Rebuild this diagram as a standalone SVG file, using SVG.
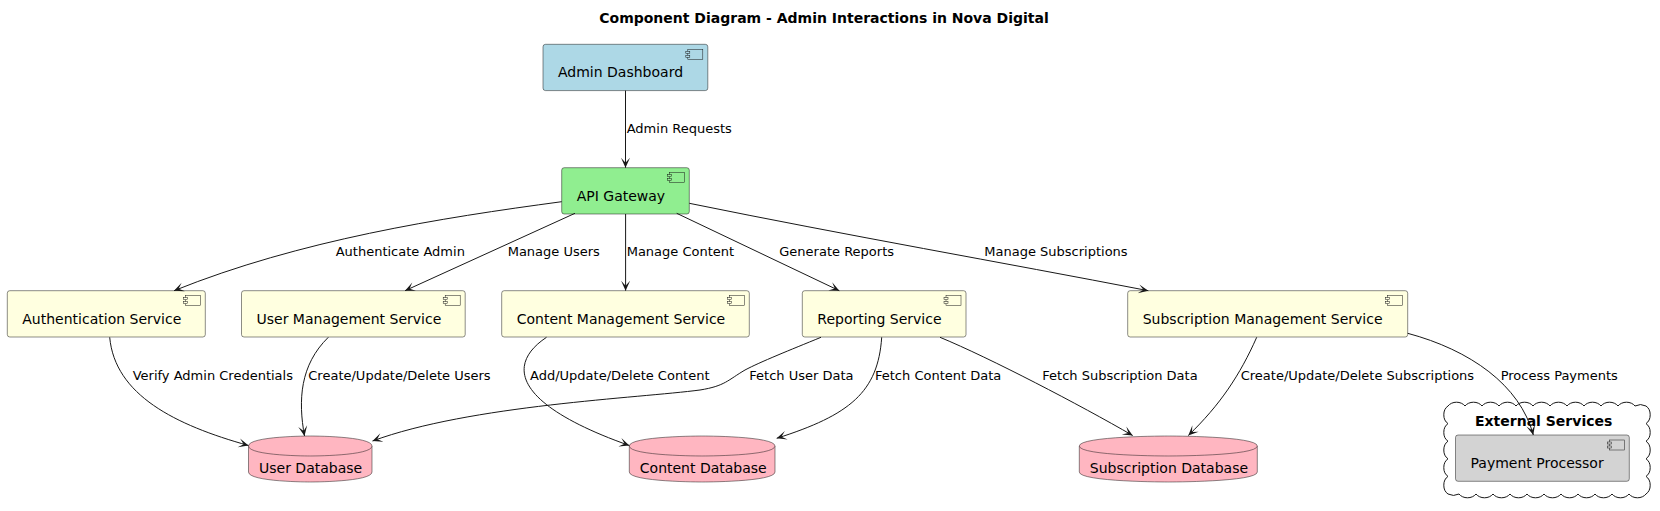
<svg xmlns="http://www.w3.org/2000/svg" width="1660" height="511" viewBox="0 0 1660 511">
<defs>
<style>
text{font-family:"DejaVu Sans","Noto Sans",sans-serif;fill:#000;}
.title{font-size:14px;font-weight:bold;}
.nt{font-size:14px;}
.lb{font-size:13px;}
.box{stroke:#181818;stroke-width:0.5;}
.comp{fill:#FFFFE0;}
.db{fill:#FFB6C1;stroke:#181818;stroke-width:0.5;}
.edge{fill:none;stroke:#181818;stroke-width:1;marker-end:url(#ah);}
</style>
<marker id="ah" markerWidth="12" markerHeight="10" refX="11" refY="5" orient="auto" markerUnits="userSpaceOnUse" viewBox="0 0 12 10">
<path d="M11,5 L1,0.5 L6,5 L1,9.5 Z" fill="#181818"/>
</marker>
</defs>
<rect width="1660" height="511" fill="#FFFFFF"/>
<text class="title" x="824" y="22.7" text-anchor="middle">Component Diagram - Admin Interactions in Nova Digital</text>

<g id="external_services">
<path d="M1448,406 a10,8 0 0,1 17,0 a10,8 0 0,1 17,0 a10,8 0 0,1 17,0 a10,8 0 0,1 17,0 a10,8 0 0,1 17,0 a10,8 0 0,1 17,0 a10,8 0 0,1 17,0 a10,8 0 0,1 17,0 a10,8 0 0,1 17,0 a10,8 0 0,1 17,0 a10,8 0 0,1 17,0 a10,8 0 0,1 11,0 a8,10 0 0,1 0,17.6 a8,10 0 0,1 0,17.6 a8,10 0 0,1 0,17.6 a8,10 0 0,1 0,17.6 a8,10 0 0,1 0,17.6 a10,8 0 0,1 -17,0 a10,8 0 0,1 -17,0 a10,8 0 0,1 -17,0 a10,8 0 0,1 -17,0 a10,8 0 0,1 -17,0 a10,8 0 0,1 -17,0 a10,8 0 0,1 -17,0 a10,8 0 0,1 -17,0 a10,8 0 0,1 -17,0 a10,8 0 0,1 -17,0 a10,8 0 0,1 -17,0 a10,8 0 0,1 -11,0 a8,10 0 0,1 0,-17.6 a8,10 0 0,1 0,-17.6 a8,10 0 0,1 0,-17.6 a8,10 0 0,1 0,-17.6 a8,10 0 0,1 0,-17.6 Z" fill="#FFFFFF" stroke="#181818" stroke-width="1"/>
<text class="title" x="1475" y="425.5">External Services</text>
</g>

<g id="admin_dashboard">
<rect class="box" x="543" y="44.3" width="164.8" height="46.3" rx="2.5" fill="#ADD8E6"/>
<rect class="box" x="687.8" y="49.3" width="15" height="10" fill="#ADD8E6"/>
<rect class="box" x="685.8" y="51.3" width="4" height="2" fill="#ADD8E6"/>
<rect class="box" x="685.8" y="55.3" width="4" height="2" fill="#ADD8E6"/>
<text class="nt" x="558" y="77.3">Admin Dashboard</text>
</g>

<g id="api_gateway">
<rect class="box" x="561.7" y="167.7" width="127.6" height="46.3" rx="2.5" fill="#90EE90"/>
<rect class="box" x="669.3" y="172.7" width="15" height="10" fill="#90EE90"/>
<rect class="box" x="667.3" y="174.7" width="4" height="2" fill="#90EE90"/>
<rect class="box" x="667.3" y="178.7" width="4" height="2" fill="#90EE90"/>
<text class="nt" x="576.7" y="200.7">API Gateway</text>
</g>

<g id="auth_service">
<rect class="box comp" x="7.3" y="290.7" width="198" height="46.3" rx="2.5"/>
<rect class="box comp" x="185.3" y="295.7" width="15" height="10"/>
<rect class="box comp" x="183.3" y="297.7" width="4" height="2"/>
<rect class="box comp" x="183.3" y="301.7" width="4" height="2"/>
<text class="nt" x="22.3" y="323.7">Authentication Service</text>
</g>

<g id="user_mgmt_service">
<rect class="box comp" x="241.5" y="290.7" width="223.7" height="46.3" rx="2.5"/>
<rect class="box comp" x="445.2" y="295.7" width="15" height="10"/>
<rect class="box comp" x="443.2" y="297.7" width="4" height="2"/>
<rect class="box comp" x="443.2" y="301.7" width="4" height="2"/>
<text class="nt" x="256.5" y="323.7">User Management Service</text>
</g>

<g id="content_mgmt_service">
<rect class="box comp" x="501.7" y="290.7" width="247.6" height="46.3" rx="2.5"/>
<rect class="box comp" x="729.3" y="295.7" width="15" height="10"/>
<rect class="box comp" x="727.3" y="297.7" width="4" height="2"/>
<rect class="box comp" x="727.3" y="301.7" width="4" height="2"/>
<text class="nt" x="516.7" y="323.7">Content Management Service</text>
</g>

<g id="reporting_service">
<rect class="box comp" x="802.3" y="290.7" width="163.7" height="46.3" rx="2.5"/>
<rect class="box comp" x="946" y="295.7" width="15" height="10"/>
<rect class="box comp" x="944" y="297.7" width="4" height="2"/>
<rect class="box comp" x="944" y="301.7" width="4" height="2"/>
<text class="nt" x="817.3" y="323.7">Reporting Service</text>
</g>

<g id="subscription_mgmt_service">
<rect class="box comp" x="1127.7" y="290.7" width="280" height="46.3" rx="2.5"/>
<rect class="box comp" x="1387.7" y="295.7" width="15" height="10"/>
<rect class="box comp" x="1385.7" y="297.7" width="4" height="2"/>
<rect class="box comp" x="1385.7" y="301.7" width="4" height="2"/>
<text class="nt" x="1142.7" y="323.7">Subscription Management Service</text>
</g>

<g id="payment_processor">
<rect class="box" x="1455.5" y="435" width="173.8" height="46.3" rx="2.5" fill="#D3D3D3"/>
<rect class="box" x="1609.3" y="440" width="15" height="10" fill="#D3D3D3"/>
<rect class="box" x="1607.3" y="442" width="4" height="2" fill="#D3D3D3"/>
<rect class="box" x="1607.3" y="446" width="4" height="2" fill="#D3D3D3"/>
<text class="nt" x="1470.5" y="468">Payment Processor</text>
</g>

<g id="user_db">
<path class="db" d="M248.5,446 C248.5,436 310.3,436 310.3,436 C310.3,436 372,436 372,446 L372,472 C372,482 310.3,482 310.3,482 C310.3,482 248.5,482 248.5,472 Z"/>
<path class="db" d="M248.5,446 C248.5,456 310.3,456 310.3,456 C310.3,456 372,456 372,446" fill="none"/>
<text class="nt" x="259" y="473.3">User Database</text>
</g>

<g id="content_db">
<path class="db" d="M629.3,446 C629.3,436 702.2,436 702.2,436 C702.2,436 775,436 775,446 L775,472 C775,482 702.2,482 702.2,482 C702.2,482 629.3,482 629.3,472 Z"/>
<path class="db" d="M629.3,446 C629.3,456 702.2,456 702.2,456 C702.2,456 775,456 775,446" fill="none"/>
<text class="nt" x="639.8" y="473.3">Content Database</text>
</g>

<g id="subscription_db">
<path class="db" d="M1079.3,446 C1079.3,436 1168.3,436 1168.3,436 C1168.3,436 1257.3,436 1257.3,446 L1257.3,472 C1257.3,482 1168.3,482 1168.3,482 C1168.3,482 1079.3,482 1079.3,472 Z"/>
<path class="db" d="M1079.3,446 C1079.3,456 1168.3,456 1168.3,456 C1168.3,456 1257.3,456 1257.3,446" fill="none"/>
<text class="nt" x="1089.8" y="473.3">Subscription Database</text>
</g>

<g id="connectors">
<path class="edge" d="M625.5,90.6 L625.5,167.7"/>
<path class="edge" d="M561.7,201.7 C440,218 300,240 174,290.7"/>
<path class="edge" d="M575,213.3 L405,290.7"/>
<path class="edge" d="M625.6,214 L625.6,290.7"/>
<path class="edge" d="M676.7,213.3 L839.3,290.7"/>
<path class="edge" d="M689.3,203.3 C850,236 1000,262 1148.3,290.7"/>
<path class="edge" d="M109.7,337.3 C115,395 175,425 248.5,445.5"/>
<path class="edge" d="M328.3,337.3 C300,365 298,400 304.5,436"/>
<path class="edge" d="M546.5,337.3 C505,365 515,405 629.3,445.5"/>
<path class="edge" d="M821,337.3 C790,350 760,362 745,370 C728,380 725,386 700,390 C640,398 470,405 372.5,441"/>
<path class="edge" d="M881.7,337.3 C878,392 850,415 776.7,438.3"/>
<path class="edge" d="M940,337.3 C990,358 1080,405 1132.7,435.5"/>
<path class="edge" d="M1256.7,337.3 C1240,375 1220,405 1188.3,435.5"/>
<path class="edge" d="M1407.7,333.3 C1470,350 1520,385 1533.3,435"/>
<text class="lb" x="626.7" y="133">Admin Requests</text>
<text class="lb" x="335.7" y="256">Authenticate Admin</text>
<text class="lb" x="507.7" y="256">Manage Users</text>
<text class="lb" x="626.7" y="256">Manage Content</text>
<text class="lb" x="779.3" y="256">Generate Reports</text>
<text class="lb" x="984.3" y="256">Manage Subscriptions</text>
<text class="lb" x="132.7" y="380">Verify Admin Credentials</text>
<text class="lb" x="308.3" y="380">Create/Update/Delete Users</text>
<text class="lb" x="530" y="380">Add/Update/Delete Content</text>
<text class="lb" x="749.3" y="380">Fetch User Data</text>
<text class="lb" x="875" y="380">Fetch Content Data</text>
<text class="lb" x="1042.3" y="380">Fetch Subscription Data</text>
<text class="lb" x="1240.7" y="380">Create/Update/Delete Subscriptions</text>
<text class="lb" x="1500.7" y="380">Process Payments</text>
</g>
</svg>
